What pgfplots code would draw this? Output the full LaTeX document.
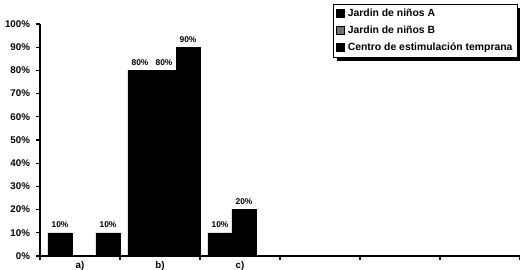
\documentclass[border=0pt]{standalone}
\usepackage{fontspec}
\setmainfont{Liberation Sans}
\usepackage{pgfplots}
\pgfplotsset{compat=1.18}
\begin{document}
\begin{tikzpicture}
\begin{axis}[
  scale only axis, width=360pt, height=174pt,
  xmin=-0.5, xmax=5.5, ymin=0, ymax=100,
  clip=false,
  axis lines=left, axis line style={-, line width=0.9pt},
  /pgf/number format/assume math mode=true,
  ybar=0pt, bar width=18pt,
  ytick={0,10,...,100},
  yticklabel={\pgfmathprintnumber{\tick}\%},
  y tick style={line width=0.9pt, black},
  tick align=outside, major tick length=3pt,
  xtick={0,1,2}, xticklabels={a),b),c)},
  x tick style={draw=none},
  extra x ticks={-0.5,0.5,1.5,2.5,3.5,4.5,5.5},
  extra x tick labels={},
  extra x tick style={x tick style={draw=black, line width=0.9pt}, major tick length=3pt},
  ticklabel style={font=\bfseries\fontsize{7.3}{8}\selectfont},
  yticklabel style={xshift=-1pt},
  xticklabel style={yshift=2.5pt},
  point meta=y,
  nodes near coords={\pgfmathprintnumber{\pgfplotspointmeta}\%},
  every node near coord/.append style={font=\bfseries\fontsize{6.3}{7}\selectfont, inner sep=1pt, yshift=2.5pt, black},
  legend style={at={(0.61,1.088)}, anchor=north west, draw=black, line width=0.7pt,
    font=\bfseries\fontsize{7.8}{9}\selectfont, cells={anchor=west},
    inner xsep=2pt, inner ysep=1.5pt, row sep=1.6pt, fill=white,
    append after command={\pgfextra{%
      \fill[black] ([xshift=3pt,yshift=-3pt]\tikzlastnode.south west) rectangle ([xshift=3pt]\tikzlastnode.south east);
      \fill[black] ([yshift=-3pt]\tikzlastnode.south east) rectangle ([xshift=3pt,yshift=-3pt]\tikzlastnode.north east);}}},
  legend image code/.code={\draw[fill=black, draw=black, line width=0.6pt] (0pt,-2.8pt) rectangle (6pt,2.8pt);},
]
\addplot[fill=black, draw=black, bar shift=-15pt] coordinates {(0,10) (1,80) (2,10)};
\addlegendentry{Jardin de niños A}
\addplot[fill=black, draw=black, bar shift=3pt,
  legend image code/.code={\draw[fill=black!55, draw=black, line width=0.9pt] (0pt,-2.8pt) rectangle (6pt,2.8pt);}]
  coordinates {(1,80) (2,20)};
\addlegendentry{Jardin de niños B}
\addplot[fill=black, draw=black, bar shift=21pt] coordinates {(0,10) (1,90)};
\addlegendentry{Centro de estimulación temprana}
\end{axis}
\pgfresetboundingbox
\useasboundingbox (-30pt,-10.5pt) rectangle (360pt,192pt);
\end{tikzpicture}
\end{document}
